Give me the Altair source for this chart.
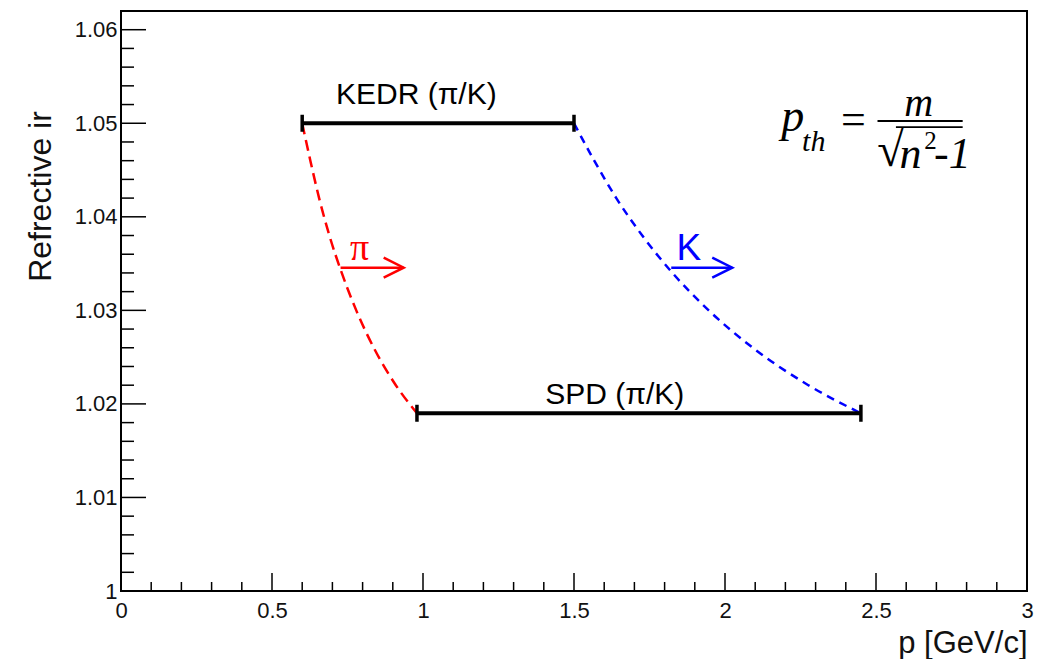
import altair as alt
import pandas as pd

# ---------------- data ----------------
# refractive index along the threshold curves
n_index = [1.050, 1.046, 1.042, 1.038, 1.034, 1.030, 1.026, 1.022, 1.019]
p_pion = [0.600, 0.627, 0.656, 0.690, 0.731, 0.779, 0.837, 0.910, 0.980]
p_kaon = [1.500, 1.567, 1.640, 1.726, 1.826, 1.946, 2.092, 2.276, 2.450]

# momentum ranges of the two detectors
range_name = ["KEDR (π/K)", "SPD (π/K)"]
range_start = [0.60, 0.98]
range_end = [1.50, 2.45]
range_n = [1.050, 1.019]
range_label_x = [0.978, 1.635]
range_label_n = [1.0521, 1.0200]

# threshold arrows
arrow_label = ["π", "K"]
arrow_color = ["#ff0000", "#0000ff"]
arrow_start = [0.727, 1.822]
arrow_end = [0.936, 2.024]
arrow_n = [1.03456, 1.03456]
arrow_label_x = [0.790, 1.880]
arrow_label_n = [1.03534, 1.03534]

# axis ticks
x_major = [0, 0.5, 1, 1.5, 2, 2.5, 3]
x_minor = [0.1, 0.2, 0.3, 0.4, 0.6, 0.7, 0.8, 0.9, 1.1, 1.2, 1.3, 1.4,
           1.6, 1.7, 1.8, 1.9, 2.1, 2.2, 2.3, 2.4, 2.6, 2.7, 2.8, 2.9]
y_major = [1.00, 1.01, 1.02, 1.03, 1.04, 1.05, 1.06]
y_minor = [1.002, 1.004, 1.006, 1.008, 1.012, 1.014, 1.016, 1.018,
           1.022, 1.024, 1.026, 1.028, 1.032, 1.034, 1.036, 1.038,
           1.042, 1.044, 1.046, 1.048, 1.052, 1.054, 1.056, 1.058]

# formula annotation anchors (data coordinates)
f_p = (2.224, 1.04922)
f_th = (2.294, 1.04708)
f_eq = (2.425, 1.0489)
f_m = (2.641, 1.0508)
f_frac = (2.505, 2.787, 1.05023)
f_sqrt = (2.504, 1.04543)
f_over = (2.566, 2.787, 1.04959)
f_n = (2.578, 1.04527)
f_sq = (2.660, 1.04727)
f_m1 = (2.692, 1.04527)

# ---------------- chart ----------------
SANS = "Liberation Sans"
SERIF = "Liberation Serif"

XS = alt.Scale(domain=[0, 3], nice=False, zero=False)
YS = alt.Scale(domain=[1.0, 1.062], nice=False, zero=False)

xaxis = alt.Axis(values=x_major, format=".1~f", title="p [GeV/c]", domain=False,
                 ticks=False, grid=False, labelFont=SANS, labelFontSize=22,
                 labelColor="#111", labelPadding=9.5, labelFlush=False,
                 titleFont=SANS, titleFontSize=31, titleFontWeight="normal",
                 titleColor="#111", titleAlign="right", titleX=906, titleY=61,
                 titleBaseline="alphabetic")
yaxis = alt.Axis(values=y_major, format=".2~f", title="Refrective ir", domain=False,
                 ticks=False, grid=False, labelFont=SANS, labelFontSize=22,
                 labelColor="#111", labelPadding=4, labelFlush=False,
                 titleFont=SANS, titleFontSize=32, titleFontWeight="normal",
                 titleColor="#111", titleAngle=270, titleAlign="center",
                 titleBaseline="alphabetic", titleX=-71, titleY=185)


def X(f):
    return alt.X(f, type="quantitative", scale=XS, axis=xaxis)


def Y(f):
    return alt.Y(f, type="quantitative", scale=YS, axis=yaxis)


curves = pd.DataFrame({
    "n": n_index * 2,
    "p": p_pion + p_kaon,
    "particle": ["pi"] * len(n_index) + ["K"] * len(n_index),
})

pion_line = alt.Chart(curves[curves.particle == "pi"]).mark_line(
    color="#ff0000", strokeWidth=2.5, strokeDash=[11, 6], interpolate="monotone"
).encode(x=X("p"), y=Y("n"))
kaon_line = alt.Chart(curves[curves.particle == "K"]).mark_line(
    color="#0000ff", strokeWidth=2.5, strokeDash=[8, 6], interpolate="monotone"
).encode(x=X("p"), y=Y("n"))

ranges = pd.DataFrame({"name": range_name, "start": range_start, "end": range_end,
                       "n": range_n, "lx": range_label_x, "ln": range_label_n})
range_bars = alt.Chart(ranges).mark_rule(color="black", strokeWidth=4).encode(
    x=X("start"), x2="end", y=Y("n"))
caps = pd.DataFrame({"p": range_start + range_end, "n": range_n + range_n})
range_caps = alt.Chart(caps).mark_tick(color="black", orient="vertical", size=17,
                                       thickness=3.5, opacity=1).encode(x=X("p"), y=Y("n"))
range_text = alt.Chart(ranges).mark_text(font=SANS, fontSize=30, color="black",
                                         align="center", baseline="alphabetic").encode(
    x=X("lx"), y=Y("ln"), text="name")

arrows = pd.DataFrame({"label": arrow_label, "color": arrow_color, "start": arrow_start,
                       "end": arrow_end, "n": arrow_n, "lx": arrow_label_x,
                       "ln": arrow_label_n})
arrow_shaft = alt.Chart(arrows).mark_rule(strokeWidth=2.5).encode(
    x=X("start"), x2="end", y=Y("n"), color=alt.Color("color:N", scale=None))
arrow_head = alt.Chart(arrows).mark_point(shape="M -2 -1 L 0 0 L -2 1", size=400,
                                          filled=False, strokeWidth=2.5, opacity=1).encode(
    x=X("end"), y=Y("n"), color=alt.Color("color:N", scale=None))
pi_text = alt.Chart(arrows[arrows.label == "π"]).mark_text(
    font=SERIF, fontSize=38, align="center", baseline="alphabetic", color="#ff0000"
).encode(x=X("lx"), y=Y("ln"), text="label")
k_text = alt.Chart(arrows[arrows.label == "K"]).mark_text(
    font=SANS, fontSize=37, align="center", baseline="alphabetic", color="#0000ff"
).encode(x=X("lx"), y=Y("ln"), text="label")


def ftext(txt, pos, size, style="italic", align="center"):
    d = pd.DataFrame({"t": [txt], "x": [pos[0]], "y": [pos[1]]})
    return alt.Chart(d).mark_text(font=SERIF, fontSize=size, fontStyle=style,
                                  align=align, baseline="alphabetic", color="black").encode(
        x=X("x"), y=Y("y"), text="t")


def frule(seg, width):
    d = pd.DataFrame({"x": [seg[0]], "x2": [seg[1]], "y": [seg[2]]})
    return alt.Chart(d).mark_rule(color="black", strokeWidth=width).encode(
        x=X("x"), x2="x2", y=Y("y"))


formula = [
    ftext("p", f_p, 46),
    ftext("th", f_th, 30),
    ftext("=", f_eq, 44, style="normal"),
    ftext("m", f_m, 40),
    frule(f_frac, 2),
    ftext("√", f_sqrt, 48, style="normal", align="left"),
    frule(f_over, 1.6),
    ftext("n", f_n, 44, align="left"),
    ftext("2", f_sq, 25, style="normal", align="left"),
    ftext("-1", f_m1, 44, align="left"),
]

# inward ROOT-style ticks
ymaj = alt.Chart(pd.DataFrame({"v": y_major})).mark_rule(color="black", strokeWidth=1.5).encode(
    y=Y("v"), x=alt.value(0), x2=alt.value(25))
ymin = alt.Chart(pd.DataFrame({"v": y_minor})).mark_rule(color="black", strokeWidth=1.5).encode(
    y=Y("v"), x=alt.value(0), x2=alt.value(13))
xmaj = alt.Chart(pd.DataFrame({"v": x_major})).mark_rule(color="black", strokeWidth=1.5).encode(
    x=X("v"), y=alt.value(580), y2=alt.value(562))
xmin = alt.Chart(pd.DataFrame({"v": x_minor})).mark_rule(color="black", strokeWidth=1.5).encode(
    x=X("v"), y=alt.value(580), y2=alt.value(571))

chart = alt.layer(
    ymaj, ymin, xmaj, xmin,
    pion_line, kaon_line, range_bars, range_caps, range_text,
    arrow_shaft, arrow_head, pi_text, k_text,
    *formula,
).properties(
    width=906, height=580, autosize="none",
    padding={"left": 113, "top": 3, "right": 20, "bottom": 68},
    background="white",
).configure_view(stroke="black", strokeWidth=2)

chart.save("out.html", embed_options={"renderer": "svg", "actions": False})
